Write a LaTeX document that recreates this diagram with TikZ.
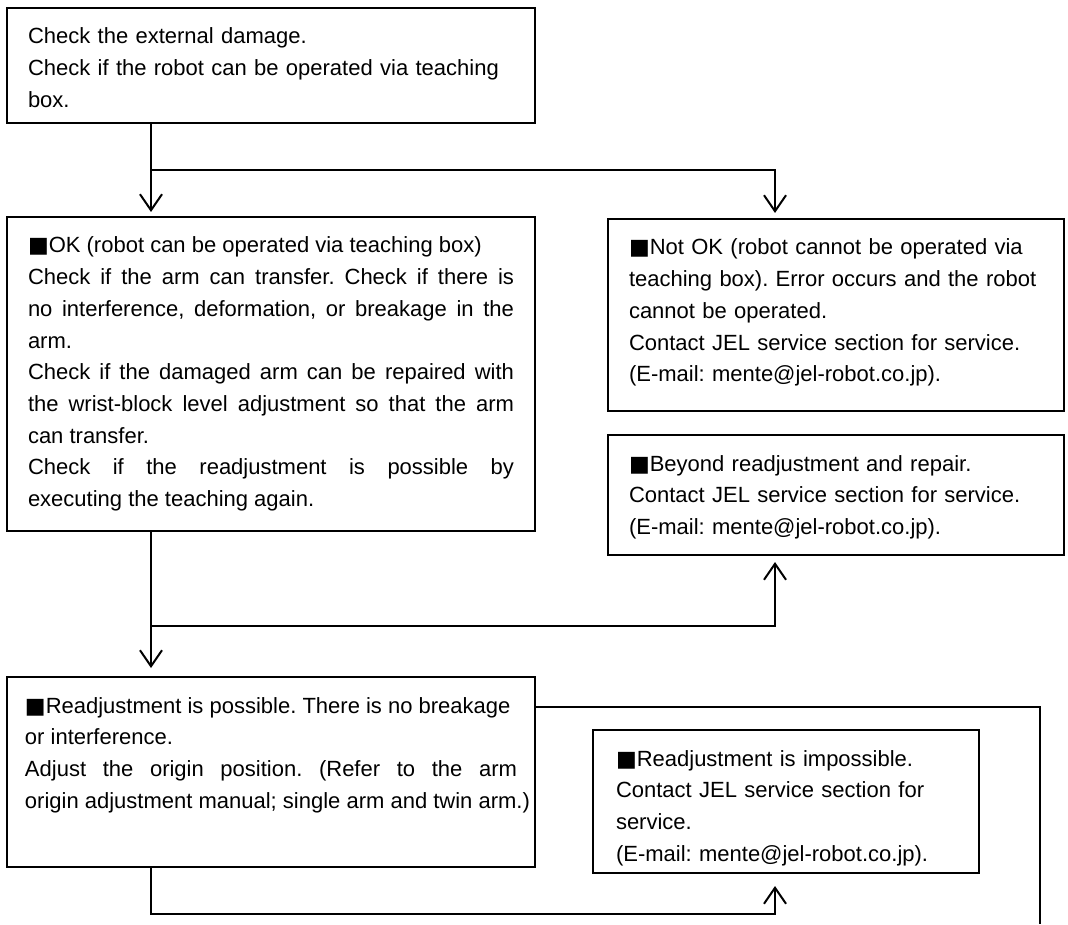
\documentclass[tikz,border=0pt]{standalone}
\usepackage{fontspec}
\setmainfont{Liberation Sans}
\newfontfamily\symfont{DejaVu Sans}
\newcommand{\sq}{{\symfont ■}}
\usepackage{tikz}
\usetikzlibrary{arrows.meta,positioning}
\tikzset{
    %Define standard arrow tip
    >={Straight Barb[length=8pt,width=11pt]},
    %Define style for boxes
    box/.style={
           rectangle,
           draw=black, line width=1pt,
           anchor=north west,
           inner xsep=10.5pt, inner ysep=0pt,
           text height=18pt,
           font=\fontsize{11}{15.85}\selectfont\frenchspacing,
           align=left},
    boxj/.style={
           box,
           align=justify},
    % Define arrow style
    pil/.style={
           ->,
           line width=1pt,
           shorten >=2.5pt},
    wire/.style={
           line width=1pt}
}
\begin{document}
\begin{tikzpicture}[x=0.5pt,y=-0.5pt]
\useasboundingbox (0,0) rectangle (1068,924);
\node[box, text width=243pt, text depth=39.5pt](1) at (6,7){Check the external damage.\\
Check if the robot can be operated via teaching\\ box.};
\node[boxj, text width=243pt, text depth=139pt](2) at (6,216){\sq OK (robot can be operated via teaching box)\\
Check if the arm can transfer. Check if there is\linebreak no interference, deformation, or breakage in the\linebreak arm.\\
Check if the damaged arm can be repaired with\linebreak the wrist-block level adjustment so that the arm\linebreak can transfer.\\
Check if the readjustment is possible by\linebreak executing the teaching again.};
\node[box, text width=207pt, text depth=78pt](3) at (607,218){\sq Not OK (robot cannot be operated via\\
teaching box). Error occurs and the robot\\ cannot be operated.\\
Contact JEL service section for service.\\
(E-mail: mente@jel-robot.co.jp).};
\node[box, text width=207pt, text depth=42pt](4) at (607,434){\sq Beyond readjustment and repair.\\
Contact JEL service section for service.\\
(E-mail: mente@jel-robot.co.jp).};
\node[boxj, inner xsep=9pt, text width=246pt, text depth=77pt](5) at (6,676){\sq Readjustment is possible. There is no breakage\\ or interference.\\
Adjust the origin position. (Refer to the arm\linebreak \mbox{origin adjustment manual; single arm and twin arm.)}};
\node[box, inner xsep=11.5pt, text width=170pt, text depth=53.5pt](6) at (592,729){\sq Readjustment is impossible.\\
Contact JEL service section for\\ service.\\
(E-mail: mente@jel-robot.co.jp).};

\coordinate (spine) at (151,0);
\coordinate (col) at (775,0);
\coordinate (j1) at (151,170);
\coordinate (j2) at (151,626);
\coordinate (j3) at (151,914);
\coordinate (r1) at (1040,707);
\coordinate (r2) at (1040,924);

\draw[pil, shorten >=2pt] (1.south -| spine) -- (2.north -| spine);
\draw[pil] (j1) -| (3.north -| col);
\draw[pil, shorten >=4pt] (2.south -| spine) -- (5.north -| spine);
\draw[pil, shorten >=3pt] (j2) -| (4.south -| col);
\draw[pil, shorten >=6pt] (5.south -| spine) -- (j3) -| (6.south -| col);
\draw[wire] (5.east |- r1) -- (r1) -- (r2);
\end{tikzpicture}
\end{document}
